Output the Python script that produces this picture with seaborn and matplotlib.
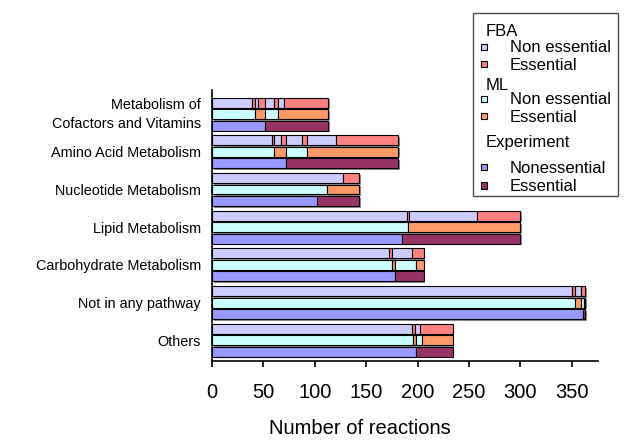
import numpy as np
import matplotlib
matplotlib.use("Agg")
import matplotlib.pyplot as plt
import matplotlib.patheffects as pe
from matplotlib.patches import Rectangle
import seaborn as sns

# Data (segment lengths alternate non essential / essential)
categories = ["Metabolism of\nCofactors and Vitamins", "Amino Acid Metabolism",
              "Nucleotide Metabolism", "Lipid Metabolism", "Carbohydrate Metabolism",
              "Not in any pathway", "Others"]
fba_segments = [[39, 3, 3, 7, 8, 4, 6, 43], [58, 2, 7, 5, 16, 4, 29, 60], [127, 16],
                [190, 2, 66, 42], [172, 3, 20, 11], [350, 3, 6, 4], [195, 2, 5, 32]]
ml_segments = [[42, 10, 12, 49], [60, 12, 20, 89], [112, 31], [191, 109],
               [175, 3, 20, 8], [353, 6, 3, 1], [196, 2, 6, 30]]
exp_segments = [[52, 61], [72, 109], [102, 41], [185, 115], [178, 28], [361, 2], [198, 36]]
x_ticks = [0, 50, 100, 150, 200, 250, 300, 350]

methods = ["FBA", "ML", "Experiment"]
method_data = [fba_segments, ml_segments, exp_segments]
method_colors = [("#ccccff", "#ff8080"), ("#ccffff", "#ff9966"), ("#9999ff", "#993366")]
legend_labels = [("Non essential", "Essential"), ("Non essential", "Essential"),
                 ("Nonessential", "Essential")]

sns.set_style("ticks")
plt.rcParams["font.family"] = ["Liberation Sans", "DejaVu Sans"]
plt.rcParams["text.color"] = "black"
plt.rcParams["axes.labelcolor"] = "black"
plt.rcParams["xtick.color"] = "black"
plt.rcParams["ytick.color"] = "black"

W, H = 624, 440
fig = plt.figure(figsize=(W / 100, H / 100), dpi=100)
ax = fig.add_axes([212 / W, 1 - 361 / H, (597.5 - 212) / W, (361 - 90) / H])

offsets = [-0.305, 0.0, 0.305]
bar_h = 0.265
shadow = [pe.SimplePatchShadow(offset=(1.2, -1.2), shadow_rgbFace="0.35", alpha=0.7), pe.Normal()]

for m, segs_all in enumerate(method_data):
    for i, segs in enumerate(segs_all):
        left = np.concatenate([[0], np.cumsum(segs)[:-1]])
        colors = [method_colors[m][k % 2] for k in range(len(segs))]
        bars = ax.barh(i + offsets[m], segs, left=left, height=bar_h, color=colors,
                       edgecolor="black", linewidth=0.8)
        for b in bars:
            b.set_path_effects(shadow)

ax.set_xlim(0, 375)
ax.set_ylim(6.55, -0.64)
ax.set_yticks(range(len(categories)))
ax.set_yticklabels(categories, fontsize=10.4, linespacing=1.45)
ax.get_yticklabels()[0].set_va("center")
ax.tick_params(axis="y", length=0, pad=8)
ax.set_xticks(x_ticks)
ax.tick_params(axis="x", labelsize=14.5, length=4, width=1.2, pad=12, direction="out")
ax.set_xlabel("Number of reactions", fontsize=14.5, labelpad=12)
ax.xaxis.set_label_coords((360 - 212) / (597.5 - 212), -0.215)
for s in ["top", "right"]:
    ax.spines[s].set_visible(False)
for s in ["left", "bottom"]:
    ax.spines[s].set_linewidth(1.2)
    ax.spines[s].set_color("black")


def fx(px):
    return px / W


def fy(py):
    return 1 - py / H


# Legend drawn by hand to match grouped headers
fig.add_artist(Rectangle((fx(473), fy(196)), (618 - 473) / W, (196 - 13) / H,
                         transform=fig.transFigure, facecolor="white",
                         edgecolor="0.3", linewidth=1.0))
header_y = [31, 86, 143]
entry_y = [(48, 65), (100, 117), (168, 186)]
for m in range(3):
    fig.text(fx(486), fy(header_y[m]), methods[m], fontsize=12, va="center", ha="left")
    for k in range(2):
        yy = entry_y[m][k]
        fig.add_artist(Rectangle((fx(481), fy(yy + 2.5)), 6 / W, 6 / H,
                                 transform=fig.transFigure,
                                 facecolor=method_colors[m][k], edgecolor="black",
                                 linewidth=0.8))
        fig.text(fx(510), fy(yy), legend_labels[m][k], fontsize=12, va="center", ha="left")

fig.savefig("out.png", dpi=100)
